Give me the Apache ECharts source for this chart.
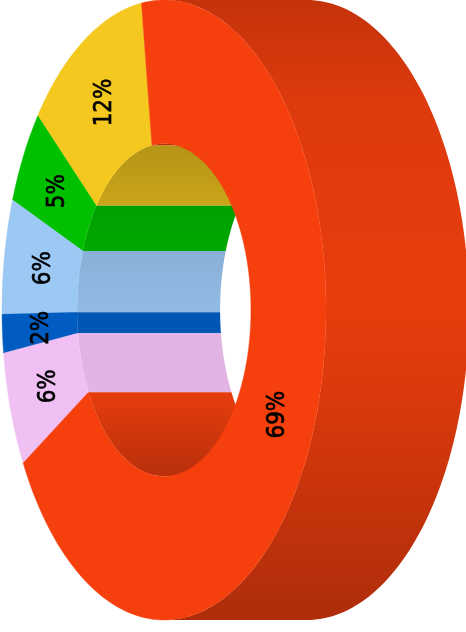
<!DOCTYPE html>
<html>
<head>
<meta charset="utf-8">
<style>html,body{margin:0;padding:0;background:#fff}#chart{width:466px;height:632px}</style>
<script src="https://cdn.jsdelivr.net/npm/echarts@6/dist/echarts.min.js"></script>
</head>
<body>
<div id="chart"></div>
<script>
// Slice shares in percent, listed counter-clockwise from the start angle.
const sliceShares = [12, 5, 6, 2, 6, 69];
const sliceColours = ['#f4c81e', '#00c000', '#9cc8f4', '#005cc0', '#f0c0f4', '#f5400e'];

// Extruded ring geometry, pixels.
const ring = { cx: 164, cy: 310, rx: 162, ry: 310, holeRatio: 0.5365, depth: 143, startDeg: 8 };

// Brightness along y for the two curved walls.
const outerShade = [[0, 0.8], [100, 0.9], [300, 0.95], [450, 0.85], [620, 0.71]];
const innerShade = [[144, 0.74], [208, 0.83], [251, 0.88], [310, 0.93], [394, 0.94], [476, 0.75]];

const rad = Math.PI / 180;
const cumulative = sliceShares.reduce((acc, v) => { acc.push(acc[acc.length - 1] + v); return acc; }, [0]);

function sliceRange(i) {
  return [ring.startDeg + cumulative[i] * 3.6, ring.startDeg + cumulative[i + 1] * 3.6];
}
// Angles run counter-clockwise from 12 o'clock.
function ellipsePoint(deg, scale, shift) {
  return [
    ring.cx + shift - ring.rx * scale * Math.sin(deg * rad),
    ring.cy - ring.ry * scale * Math.cos(deg * rad)
  ];
}
function arc(a, b, scale, shift) {
  const n = Math.max(2, Math.ceil(Math.abs(b - a) / 1.5));
  const pts = [];
  for (let k = 0; k <= n; k++) pts.push(ellipsePoint(a + (b - a) * k / n, scale, shift));
  return pts;
}
function wallGradient(hex, stops) {
  const r = parseInt(hex.slice(1, 3), 16), g = parseInt(hex.slice(3, 5), 16), b = parseInt(hex.slice(5, 7), 16);
  const y0 = stops[0][0], y1 = stops[stops.length - 1][0];
  return {
    type: 'linear', global: true, x: 0, y: y0, x2: 0, y2: y1,
    colorStops: stops.map(([y, f]) => ({
      offset: (y - y0) / (y1 - y0),
      color: `rgb(${Math.round(r * f)},${Math.round(g * f)},${Math.round(b * f)})`
    }))
  };
}
// Pieces of an angular range that fall inside a visible window, for either wrap of the circle.
function clipRange(a, b, lo, hi) {
  const parts = [];
  for (const turn of [0, 360]) {
    const s = Math.max(a, lo + turn), e = Math.min(b, hi + turn);
    if (e > s) parts.push([s, e]);
  }
  return parts;
}
function wallGroup(i, lo, hi, scale, stops) {
  const [a, b] = sliceRange(i);
  return {
    type: 'group',
    children: clipRange(a, b, lo, hi).map(([s, e]) => ({
      type: 'polygon',
      shape: { points: arc(s, e, scale, 0).concat(arc(e, s, scale, ring.depth)) },
      style: { fill: wallGradient(sliceColours[i], stops) }
    }))
  };
}

const seriesData = sliceShares.map((v, i) => [v, i]);
const customBase = { type: 'custom', coordinateSystem: 'none', data: seriesData, silent: true, animation: false };

const option = {
  animation: false,
  backgroundColor: '#ffffff',
  series: [
    // Outer wall, visible on the right half of the ring.
    { ...customBase, z: 1, renderItem: (p, api) => wallGroup(api.value(1), 180, 360, 1, outerShade) },
    // Inner wall, visible through the left half of the hole.
    { ...customBase, z: 2, renderItem: (p, api) => wallGroup(api.value(1), 0, 180, ring.holeRatio, innerShade) },
    // Front face of the ring.
    {
      ...customBase, z: 3,
      renderItem: (p, api) => {
        const i = api.value(1);
        const [a, b] = sliceRange(i);
        return {
          type: 'polygon',
          shape: { points: arc(a, b, 1, 0).concat(arc(b, a, ring.holeRatio, 0)) },
          style: { fill: sliceColours[i], stroke: sliceColours[i], lineWidth: 0.4 }
        };
      }
    },
    // Percentage labels, centred on the ring's mid radius.
    {
      ...customBase, z: 4,
      renderItem: (p, api) => {
        const i = api.value(1);
        const [a, b] = sliceRange(i);
        const [x, y] = ellipsePoint((a + b) / 2, (1 + ring.holeRatio) / 2, 0);
        return {
          type: 'text',
          x: x + 2, y: y - 0.5, rotation: Math.PI / 2, scaleY: 1.15,
          style: {
            text: api.value(0) + '%',
            x: 0, y: 0,
            align: 'center', verticalAlign: 'middle',
            font: '21.5px "DejaVu Sans"',
            fill: '#000000',
            stroke: '#000000',
            lineWidth: 0.6
          }
        };
      }
    }
  ]
};
echarts.init(document.getElementById('chart'), null, { renderer: 'canvas' }).setOption(option);
</script>
</body>
</html>
